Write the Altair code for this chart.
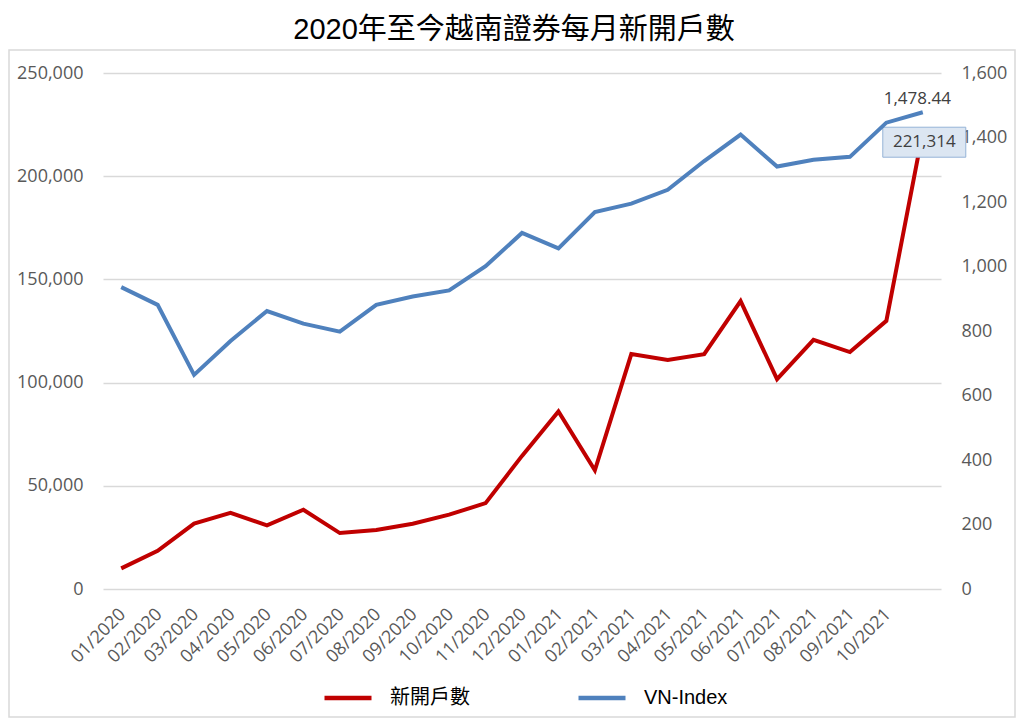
import altair as alt
import pandas as pd

months = ["01/2020", "02/2020", "03/2020", "04/2020", "05/2020", "06/2020",
          "07/2020", "08/2020", "09/2020", "10/2020", "11/2020", "12/2020",
          "01/2021", "02/2021", "03/2021", "04/2021", "05/2021", "06/2021",
          "07/2021", "08/2021", "09/2021", "10/2021", "11/2021"]
accounts = [10000, 18500, 31700, 36900, 30800, 38400,
            27100, 28600, 31600, 36000, 41600, 64500,
            86000, 57500, 113800, 111000, 113800, 139500,
            101700, 120700, 114800, 129900, 221314]
vn_index = [936, 881, 664, 769, 862, 823,
            798, 881, 907, 926, 1001, 1104,
            1056, 1169, 1195, 1238, 1327, 1409,
            1310, 1331, 1340, 1446, 1478.44]
series_names = ["新開戶數", "VN-Index"]
series_colors = ["#c00000", "#4f81bd"]
left_ticks = [0, 50000, 100000, 150000, 200000, 250000]
right_ticks = [0, 200, 400, 600, 800, 1000, 1200, 1400, 1600]

acc_df = pd.DataFrame({"month": months, "value": accounts, "series": series_names[0]})
vn_df = pd.DataFrame({"month": months, "value": vn_index, "series": series_names[1]})
last_month = months[-1]

LABEL_FONT = "Open Sans"
LABEL_COLOR = "#595959"

x_enc = alt.X(
    "month:O", sort=months,
    scale=alt.Scale(type="point", padding=0.5),
    axis=alt.Axis(title=None, labelAngle=-45, labelFont=LABEL_FONT, labelFontSize=18,
                  labelColor=LABEL_COLOR, domain=False, ticks=False, tickSize=0,
                  labelPadding=16, labelOffset=-5, grid=False,
                  labelExpr=f"datum.value == '{last_month}' ? '' : datum.value"),
)

color_enc = alt.Color(
    "series:N",
    scale=alt.Scale(domain=series_names, range=series_colors),
    legend=alt.Legend(title=None, orient="none", legendX=219, legendY=599,
                      direction="horizontal", symbolType="stroke", symbolSize=2209,
                      symbolStrokeWidth=4.5, labelFontSize=20,
                      labelFont="Liberation Sans, Noto Sans CJK TC", labelColor="black",
                      columnPadding=99, labelOffset=16),
)

left_y = alt.Y(
    "value:Q",
    scale=alt.Scale(domain=[0, 250000], nice=False, zero=True),
    axis=alt.Axis(orient="left", values=left_ticks, format=",.0f", title=None,
                  grid=True, gridColor="#d9d9d9", gridWidth=1.5, domain=False,
                  ticks=False, tickSize=0, labelPadding=20, labelFont=LABEL_FONT,
                  labelFontSize=18, labelColor=LABEL_COLOR),
)
right_y = alt.Y(
    "value:Q",
    scale=alt.Scale(domain=[0, 1600], nice=False, zero=True),
    axis=alt.Axis(orient="right", values=right_ticks, format=",.0f", title=None,
                  grid=False, domain=False, ticks=False, tickSize=0, labelPadding=20,
                  labelFont=LABEL_FONT, labelFontSize=18, labelColor=LABEL_COLOR),
)

red_line = alt.Chart(acc_df).mark_line(strokeWidth=4).encode(x=x_enc, y=left_y, color=color_enc)
box = alt.Chart(acc_df).transform_filter(alt.datum.month == last_month).mark_rect(
    width=83, height=30, fill="#dce6f2", stroke="#95b3d7", strokeWidth=1,
    xOffset=1.5, yOffset=10,
).encode(x=x_enc, y=left_y)
box_text = alt.Chart(acc_df).transform_filter(alt.datum.month == last_month).mark_text(
    font=LABEL_FONT, fontSize=17, color="#404040", dx=1.5, dy=10,
).encode(x=x_enc, y=left_y, text=alt.Text("value:Q", format=",.0f"))
left_layer = alt.layer(red_line, box, box_text)

blue_line = alt.Chart(vn_df).mark_line(strokeWidth=4).encode(x=x_enc, y=right_y, color=color_enc)
blue_text = alt.Chart(vn_df).transform_filter(alt.datum.month == last_month).mark_text(
    font=LABEL_FONT, fontSize=17, color="#404040", dx=-5.5, dy=-13,
).encode(x=x_enc, y=right_y, text=alt.Text("value:Q", format=",.2f"))
right_layer = alt.layer(blue_line, blue_text)

border = alt.Chart(acc_df).transform_filter(alt.datum.month == last_month).mark_rect(
    filled=False, stroke="#d9d9d9", strokeWidth=1.5,
).encode(x=alt.value(-94), x2=alt.value(912), y=alt.value(-23), y2=alt.value(644))

chart = alt.layer(border, left_layer, right_layer).resolve_scale(y="independent").properties(
    width=838, height=516,
    title=alt.Title("2020年至今越南證券每月新開戶數", fontSize=29,
                    font="Liberation Sans, Noto Sans CJK TC", fontWeight="normal",
                    color="black", anchor="middle", offset=4, dx=-8),
    autosize=alt.AutoSizeParams(type="none"),
    padding={"left": 95, "top": 65, "right": 75, "bottom": 130},
    background="white",
).configure_view(stroke=None)

chart.save("out.html", embed_options={"renderer": "svg", "actions": False})
